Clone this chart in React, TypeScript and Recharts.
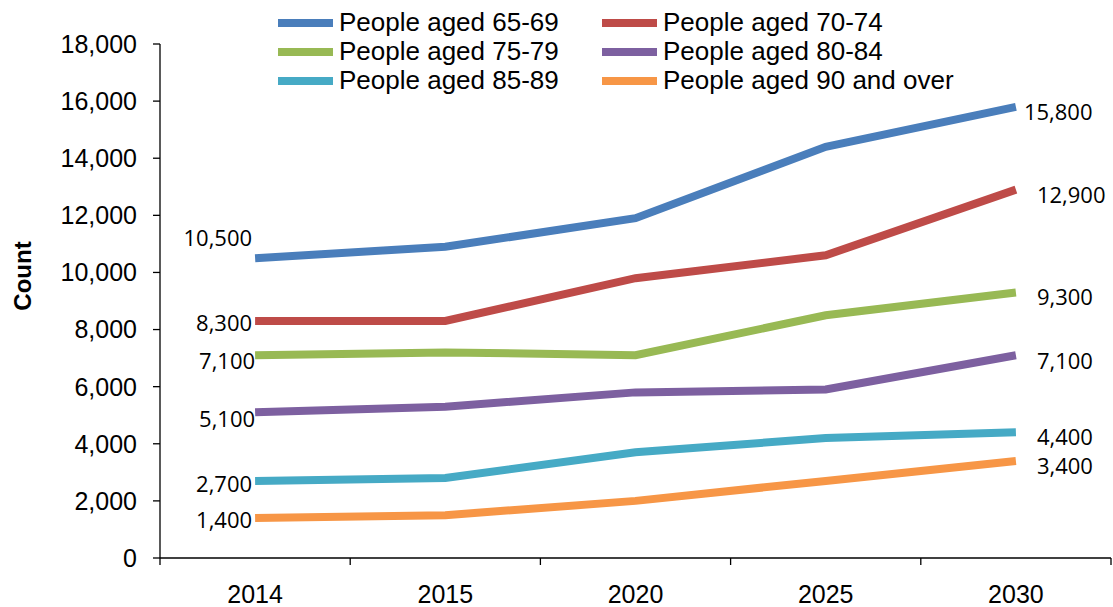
import React from 'react';
import { LineChart, Line, XAxis, YAxis, Legend, LabelList } from 'recharts';

// ---- data ----
const years = ['2014', '2015', '2020', '2025', '2030'];
const aged65to69 = [10500, 10900, 11900, 14400, 15800];
const aged70to74 = [8300, 8300, 9800, 10600, 12900];
const aged75to79 = [7100, 7200, 7100, 8500, 9300];
const aged80to84 = [5100, 5300, 5800, 5900, 7100];
const aged85to89 = [2700, 2800, 3700, 4200, 4400];
const aged90plus = [1400, 1500, 2000, 2700, 3400];
const yTicks = [0, 2000, 4000, 6000, 8000, 10000, 12000, 14000, 16000, 18000];
const seriesNames = [
  'People aged 65-69',
  'People aged 70-74',
  'People aged 75-79',
  'People aged 80-84',
  'People aged 85-89',
  'People aged 90 and over',
];
const seriesValues = [aged65to69, aged70to74, aged75to79, aged80to84, aged85to89, aged90plus];

// ---- styles ----
const colors = ['#4A7EBB', '#BE4B48', '#98B954', '#7D60A0', '#46AAC5', '#F79646'];
const firstLabelOffset = [
  { dx: -3, dy: -21 },
  { dx: -3, dy: 1 },
  { dx: 0, dy: 5 },
  { dx: 0, dy: 6 },
  { dx: -3, dy: 2 },
  { dx: -3, dy: 1 },
];
const lastLabelOffset = [
  { dx: 8, dy: 4 },
  { dx: 21, dy: 4 },
  { dx: 21, dy: 4 },
  { dx: 21, dy: 5 },
  { dx: 21, dy: 4 },
  { dx: 21, dy: 4 },
];

const data = years.map((year, i) => {
  const row: Record<string, any> = { year };
  seriesValues.forEach((vals, s) => {
    row['s' + s] = vals[i];
  });
  return row;
});

const AXIS_FONT = '"Liberation Sans", Arial, sans-serif';
const LABEL_FONT = '"Open Sans", Lato, sans-serif';

const fmt = (v: number) => v.toLocaleString('en-US');

const makeLabel = (s: number) => (props: any) => {
  const { x, y, index, value } = props;
  if (index === 0) {
    const o = firstLabelOffset[s];
    return (
      <text x={x + o.dx} y={y + o.dy} textAnchor="end" dominantBaseline="central"
        fontFamily={LABEL_FONT} fontSize={22} fill="#000">
        {fmt(value)}
      </text>
    );
  }
  if (index === years.length - 1) {
    const o = lastLabelOffset[s];
    return (
      <text x={x + o.dx} y={y + o.dy} textAnchor="start" dominantBaseline="central"
        fontFamily={LABEL_FONT} fontSize={22} fill="#000">
        {fmt(value)}
      </text>
    );
  }
  return null;
};

const XTick = (props: any) => {
  const { x, y, payload, index, visibleTicksCount } = props;
  const half = payload && typeof payload.offset === 'number' ? payload.offset : 0;
  const isLast = index === (visibleTicksCount ?? years.length) - 1;
  return (
    <g>
      <line x1={x - half} x2={x - half} y1={y} y2={y + 7} stroke="#000" strokeWidth={1.3} />
      {isLast && (
        <line x1={x + half} x2={x + half} y1={y} y2={y + 7} stroke="#000" strokeWidth={1.3} />
      )}
      <text x={x} y={y + 45} textAnchor="middle" fontFamily={AXIS_FONT} fontSize={25} fill="#000">
        {payload.value}
      </text>
    </g>
  );
};

const LegendContent = (props: any) => {
  const payload = props.payload || [];
  return (
    <div style={{ display: 'grid', gridTemplateColumns: '324px 324px', rowGap: 0 }}>
      {payload.map((p: any, i: number) => (
        <div key={i} style={{ display: 'flex', alignItems: 'center', height: 29, overflow: 'visible' }}>
          <div style={{ width: 55, minWidth: 55, flexShrink: 0, height: 8, background: p.color, marginRight: 6 }} />
          <span style={{ fontFamily: AXIS_FONT, fontSize: 26, color: '#000', lineHeight: '29px', whiteSpace: 'nowrap', flexShrink: 0 }}>
            {p.value}
          </span>
        </div>
      ))}
    </div>
  );
};

export default function App() {
  return (
    <div style={{ position: 'absolute', left: 0, top: 0, width: 1113, height: 607, background: '#fff' }}>
      <LineChart width={1113} height={607} data={data} margin={{ top: 44, right: 2, bottom: 0, left: 80 }}>
        <XAxis
          dataKey="year"
          scale="band"
          height={49}
          tickSize={0}
          tickMargin={0}
          tickLine={false}
          axisLine={{ stroke: '#000', strokeWidth: 1.3 }}
          tick={<XTick />}
          interval={0}
        />
        <YAxis
          domain={[0, 18000]}
          ticks={yTicks}
          width={80}
          tickSize={7}
          tickMargin={16}
          tickFormatter={fmt}
          axisLine={{ stroke: '#000', strokeWidth: 1.3 }}
          tickLine={{ stroke: '#000', strokeWidth: 1.3 }}
          tick={{ fontFamily: AXIS_FONT, fontSize: 25, fill: '#000' }}
          interval={0}
        />
        <Legend
          layout="horizontal"
          verticalAlign="middle"
          align="center"
          width={700}
          wrapperStyle={{ top: 8, left: 278, width: 700 }}
          content={<LegendContent />}
        />
        {seriesNames.map((name, s) => (
          <Line
            key={name}
            type="linear"
            dataKey={'s' + s}
            name={name}
            stroke={colors[s]}
            strokeWidth={8}
            dot={false}
            activeDot={false}
            isAnimationActive={false}
            legendType="rect"
          >
            <LabelList dataKey={'s' + s} content={makeLabel(s)} />
          </Line>
        ))}
      </LineChart>
      <div
        style={{
          position: 'absolute',
          left: 23,
          top: 276,
          transform: 'translate(-50%, -50%) rotate(-90deg)',
          fontFamily: AXIS_FONT,
          fontWeight: 'bold',
          fontSize: 24,
          whiteSpace: 'nowrap',
          color: '#000',
        }}
      >
        Count
      </div>
    </div>
  );
}
